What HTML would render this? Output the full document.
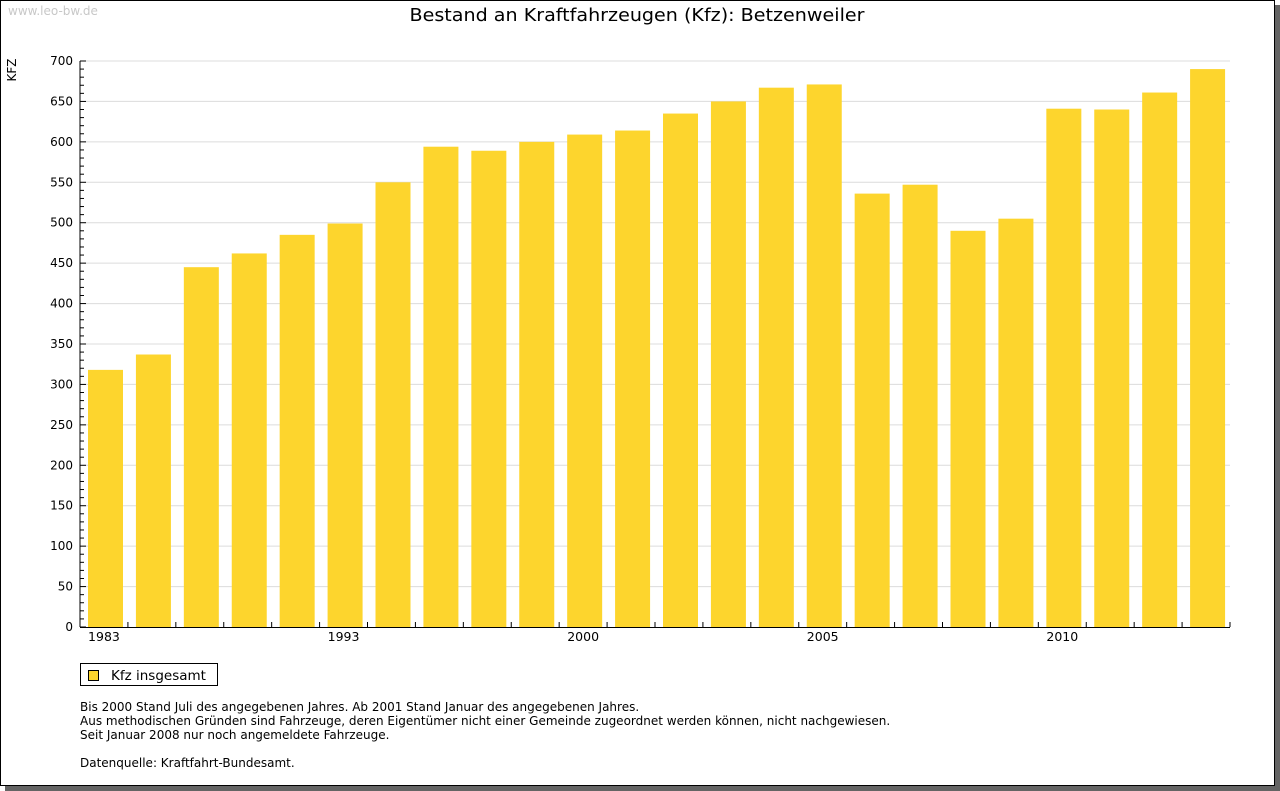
<!DOCTYPE html>
<html><head><meta charset="utf-8"><style>
body{margin:0;width:1280px;height:791px;background:#fff;font-family:"DejaVu Sans","Liberation Sans",sans-serif;overflow:hidden}
#shadow{position:absolute;left:5px;top:5px;width:1275px;height:786px;background:#646464}
#frame{position:absolute;left:0;top:0;width:1273px;height:784px;border:1px solid #000;background:#fff}
svg{position:absolute;left:0;top:0}
</style></head><body>
<div id="shadow"></div>
<div id="frame"></div>
<svg id="chart" width="1280" height="791"></svg>
<script>
const categories=["1983","1985","1987","1989","1991","1993","1995","1996","1997","1999","2000","2001","2002","2003","2004","2005","2006","2007","2008","2009","2010","2011","2012","2013"];
const values=[318,337,445,462,485,499,550,594,589,600,609,614,635,650,667,671,536,547,490,505,641,640,661,690];
const shownLabels=["1983","1993","2000","2005","2010"];
const yTicks=[0,50,100,150,200,250,300,350,400,450,500,550,600,650,700];

const svg=document.getElementById('chart');
const NS='http://www.w3.org/2000/svg';
const X0=80,X1=1230,Y0=627,Y1=61,YMAX=700;
const slot=(X1-X0)/categories.length;
const y=v=>Y0-(v/YMAX)*(Y0-Y1);
const x=i=>X0+i*slot;
function mk(tag,attrs,parent){const e=document.createElementNS(NS,tag);for(const k in attrs)e.setAttribute(k,attrs[k]);(parent||svg).appendChild(e);return e;}
function txt(s,attrs){const t=mk('text',attrs);t.textContent=s;return t;}

let t=txt('www.leo-bw.de',{x:8,y:15,'font-size':12,fill:'#c8c8c8'});

t=txt('Bestand an Kraftfahrzeugen (Kfz): Betzenweiler',{x:637,y:21,'font-size':18,'text-anchor':'middle',fill:'#000',textLength:455,lengthAdjust:'spacingAndGlyphs'});

t=txt('KFZ',{x:0,y:0,'font-size':12,'text-anchor':'middle',transform:'translate(16,70) rotate(-90)'});


yTicks.forEach(v=>{
  if(v>0){const g=mk('line',{x1:X0,x2:X1,y1:y(v),y2:y(v),stroke:'#dcdcdc','stroke-width':1});
  }
  const l=txt(String(v),{x:73,y:y(v)+4,'font-size':12,'text-anchor':'end',fill:'#000'});
  
});
for(let v=0;v<=YMAX;v+=10){
  const big=v%50===0;
  mk('line',{x1:X0,x2:X0+(big?6:4),y1:y(v),y2:y(v),stroke:'#000'});
}
values.forEach((v,i)=>{
  const r=mk('rect',{x:x(i)+8,y:y(v),width:35,height:Y0-y(v),fill:'#fdd52d'});
  
  
});
categories.forEach((c,i)=>{
  mk('line',{x1:x(i+1),x2:x(i+1),y1:Y0,y2:Y0-5,stroke:'#000'});
  if(shownLabels.includes(c)){
    const l=txt(c,{x:x(i)+slot/2,y:Y0+14,'font-size':12.5,'text-anchor':'middle'});
    
  }
});
let a=mk('line',{x1:X0,x2:X0,y1:Y1,y2:Y0,stroke:'#000'});

a=mk('line',{x1:X0,x2:X1,y1:Y0+0.5,y2:Y0+0.5,stroke:'#000'});


const lg=mk('g',{});

mk('rect',{x:80.5,y:663.5,width:137,height:22,fill:'#fff',stroke:'#000'},lg);
mk('rect',{x:88.5,y:670.5,width:10,height:10,fill:'#fdd52d',stroke:'#000'},lg);
const lt=mk('text',{x:111,y:680,'font-size':13.5},lg);lt.textContent='Kfz insgesamt';

const notes=['Bis 2000 Stand Juli des angegebenen Jahres. Ab 2001 Stand Januar des angegebenen Jahres.',
'Aus methodischen Gründen sind Fahrzeuge, deren Eigentümer nicht einer Gemeinde zugeordnet werden können, nicht nachgewiesen.',
'Seit Januar 2008 nur noch angemeldete Fahrzeuge.','','Datenquelle: Kraftfahrt-Bundesamt.'];
notes.forEach((n,i)=>{if(!n)return;const e=txt(n,{x:80,y:711+i*14,'font-size':12});
});
</script>
</body></html>
